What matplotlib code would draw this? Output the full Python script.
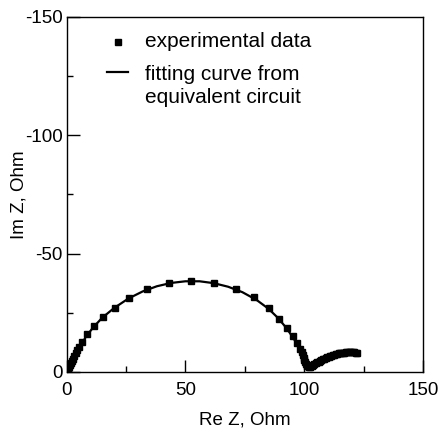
import matplotlib
matplotlib.use("Agg")
import matplotlib.pyplot as plt
from matplotlib.ticker import MultipleLocator, FuncFormatter

plt.rcParams['font.family'] = ['Liberation Sans', 'DejaVu Sans']

# experimental data (Re Z, Im Z) in Ohm
exp_re = [0.4, 0.6, 0.8, 1.0, 1.3, 1.7, 2.1, 2.7, 3.3, 3.8, 4.5, 5.2, 6.6, 8.7, 11.6,
          15.4, 20.2, 26.3, 33.9, 43.0, 52.4, 62.2, 71.4, 79.1, 85.0, 89.6, 92.7,
          95.1, 96.9, 98.3, 99.0, 99.4, 99.8, 100.1, 100.5, 100.8, 101.2, 101.6,
          102.0, 102.5, 103.1, 103.7, 104.3, 104.9, 105.5, 106.1, 106.7, 107.3,
          107.9, 108.5, 109.1, 109.7, 110.3, 110.9, 111.5, 112.1, 112.7, 113.3,
          113.9, 114.5, 115.1, 115.7, 116.3, 116.9, 117.5, 118.1, 118.7, 119.3,
          119.9, 120.5, 121.1, 121.7, 122.3]
exp_im = [-0.8, -1.3, -1.8, -2.3, -2.9, -3.7, -4.5, -5.6, -6.8, -7.9, -9.2, -10.4,
          -12.8, -16.1, -19.4, -23.1, -27.1, -31.4, -34.9, -37.4, -38.4, -37.4, -35.0,
          -31.8, -26.9, -22.5, -18.5, -15.2, -12.4, -9.6, -8.3, -7.2, -6.1, -5.1, -4.0,
          -3.2, -2.7, -2.4, -2.2, -2.3, -2.6, -3.0, -3.3, -3.7, -4.0, -4.4, -4.7, -5.0,
          -5.3, -5.6, -5.9, -6.2, -6.4, -6.7, -6.9, -7.1, -7.3, -7.5, -7.6, -7.8, -7.9,
          -8.0, -8.1, -8.2, -8.3, -8.3, -8.4, -8.4, -8.4, -8.3, -8.3, -8.2, -8.1]

# fitting curve from equivalent circuit
fit_re = [0.3, 1.0, 2.0, 3.5, 5.5, 8.0, 11.0, 15.0, 20.0, 26.0, 32.0, 38.0, 44.0, 50.0,
          56.0, 62.0, 68.0, 74.0, 80.0, 85.0, 89.0, 92.5, 95.0, 97.0, 98.6, 99.8, 100.8,
          101.6, 102.4, 103.5, 105.0, 107.0, 109.5, 112.0, 115.0, 118.0, 120.5, 122.3]
fit_im = [-0.5, -2.2, -4.3, -7.3, -10.7, -14.6, -18.6, -22.9, -27.0, -31.0, -34.0, -36.2,
          -37.6, -38.3, -38.3, -37.5, -36.0, -33.7, -30.4, -26.7, -22.8, -18.6, -15.0,
          -11.8, -8.8, -6.2, -3.9, -2.6, -2.1, -2.4, -3.3, -4.5, -5.8, -6.9, -7.8, -8.2,
          -8.3, -8.1]

x_ticks = [0, 50, 100, 150]
y_ticks = [0, -50, -100, -150]

fig = plt.figure(figsize=(4.41, 4.33), dpi=100)
ax = fig.add_axes([0.151, 0.141, 0.808, 0.820])

ax.plot(fit_re, fit_im, color='black', lw=1.6, zorder=2)
ax.plot(exp_re, exp_im, linestyle='none', marker='s', ms=4.3, color='black', zorder=3)

ax.set_xlim(0, 150)
ax.set_ylim(0, -150)
ax.set_xticks(x_ticks)
ax.set_yticks(y_ticks)
ax.xaxis.set_minor_locator(MultipleLocator(25))
ax.yaxis.set_minor_locator(MultipleLocator(25))
fmt = FuncFormatter(lambda v, p: ('%d' % v).replace('\u2212', '-'))
ax.xaxis.set_major_formatter(fmt)
ax.yaxis.set_major_formatter(fmt)

ax.tick_params(which='both', direction='in', top=False, right=False, labelsize=13.5)
ax.tick_params(which='major', length=9, width=1)
ax.tick_params(which='minor', length=4, width=1)
ax.tick_params(axis='x', which='major', pad=7)
ax.tick_params(axis='y', which='major', pad=3)
for s in ax.spines.values():
    s.set_linewidth(1.0)

ax.set_xlabel('Re Z, Ohm', fontsize=13.5, labelpad=9)
ax.set_ylabel('Im Z, Ohm', fontsize=13.5, labelpad=-2)

# legend
ax.plot([0.144], [0.930], marker='s', ms=4.5, color='black', transform=ax.transAxes, clip_on=False)
ax.plot([0.113, 0.172], [0.845, 0.845], color='black', lw=1.6, transform=ax.transAxes)
ax.text(0.22, 0.930, 'experimental data', transform=ax.transAxes, fontsize=15, va='center', ha='left')
ax.text(0.22, 0.838, 'fitting curve from', transform=ax.transAxes, fontsize=15, va='center', ha='left')
ax.text(0.22, 0.773, 'equivalent circuit', transform=ax.transAxes, fontsize=15, va='center', ha='left')

fig.savefig('out.png', dpi=100)
